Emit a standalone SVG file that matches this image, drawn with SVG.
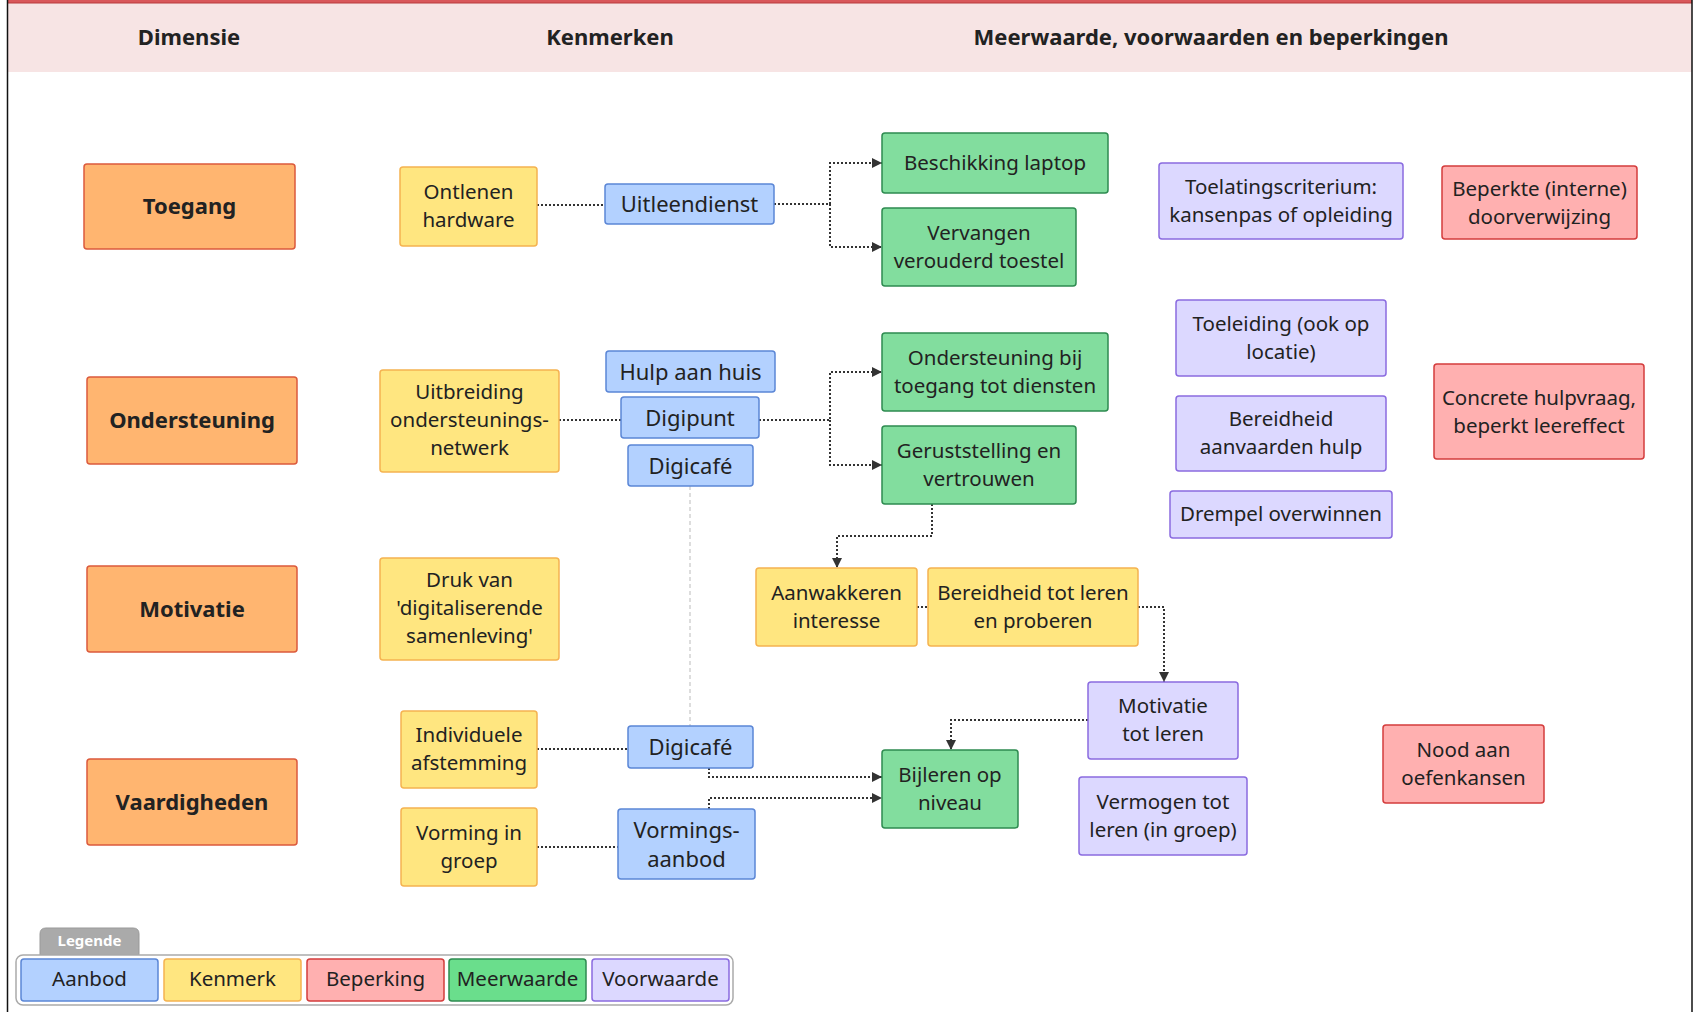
<svg xmlns="http://www.w3.org/2000/svg" width="1693" height="1012" viewBox="0 0 1693 1012">
<defs>
<marker id="arr" viewBox="0 0 10 10" refX="10" refY="5" markerWidth="10" markerHeight="10" markerUnits="userSpaceOnUse" orient="auto">
<path d="M0,0 L10,5 L0,10 z" fill="#333"/>
</marker>
<style>
text{font-family:"Noto Sans","Open Sans","Liberation Sans",sans-serif;font-size:20.5px;fill:#222;text-anchor:middle;dominant-baseline:central;transform:translateY(-1px)}
.h{font-weight:bold;font-size:22px}
.d{font-weight:bold;font-size:22px}
.a{font-size:22px}
.lg{transform:translateY(-2px)}
rect{stroke-width:1.5}
.dim{fill:#ffb570;stroke:#dc5a3c}
.ken{fill:#ffe680;stroke:#f5b350}
.aan{fill:#b3d1ff;stroke:#5b86d6}
.mee{fill:#82dd9e;stroke:#2e8b50}
.voo{fill:#dcd8ff;stroke:#8a6be0}
.bep{fill:#ffb0b0;stroke:#d43c3c}
.c{fill:none;stroke:#333;stroke-width:2;stroke-dasharray:2 2}
.ca{fill:none;stroke:#333;stroke-width:2;stroke-dasharray:2 2;marker-end:url(#arr)}
</style>
</defs>
<rect x="0" y="0" width="1693" height="1012" fill="#fff" stroke="none"/>
<!-- header -->
<g id="header">
<rect x="8" y="3" width="1684" height="69" fill="#f7e4e4" stroke="none"/>
<rect x="8" y="0" width="1684" height="3" fill="#d9575a" stroke="none"/>
<line x1="8" y1="3" x2="1692" y2="3" stroke="#b83a3d" stroke-width="1"/>
<line x1="7.5" y1="0" x2="7.5" y2="1012" stroke="#111" stroke-width="1.5"/>
<line x1="1692" y1="0" x2="1692" y2="1012" stroke="#111" stroke-width="1.5"/>
<text class="h" x="189" y="37">Dimensie</text>
<text class="h" x="610" y="37">Kenmerken</text>
<text class="h" x="1211" y="37">Meerwaarde, voorwaarden en beperkingen</text>
</g>
<!-- connectors -->
<g id="connectors">
<path class="c" d="M537,205 H605"/>
<path class="ca" d="M774,204 H830 V163 H882"/>
<path class="ca" d="M830,204 V247 H882"/>
<path class="c" d="M559,420 H621"/>
<path class="ca" d="M759,420 H830 V372 H882"/>
<path class="ca" d="M830,420 V465 H882"/>
<path class="ca" d="M932,504 V536 H837 V568"/>
<path class="c" d="M917,607 H928"/>
<path class="ca" d="M1138,607 H1164 V682"/>
<path class="ca" d="M1088,720 H951 V750"/>
<path class="c" d="M537,749 H628"/>
<path class="c" d="M537,847 H618"/>
<path class="ca" d="M709,768 V777 H882"/>
<path class="ca" d="M709,809 V798 H882"/>
<path d="M690,486 V726" fill="none" stroke="#bbb" stroke-width="1" stroke-dasharray="4 3"/>
</g>
<!-- dimensions -->
<g id="n-toegang"><rect class="dim" x="84" y="164" width="211" height="85" rx="3"/><text class="d" x="189.5" y="206">Toegang</text></g>
<g id="n-ondersteuning"><rect class="dim" x="87" y="377" width="210" height="87" rx="3"/><text class="d" x="192" y="420">Ondersteuning</text></g>
<g id="n-motivatie"><rect class="dim" x="87" y="566" width="210" height="86" rx="3"/><text class="d" x="192" y="609">Motivatie</text></g>
<g id="n-vaardigheden"><rect class="dim" x="87" y="759" width="210" height="86" rx="3"/><text class="d" x="192" y="802">Vaardigheden</text></g>
<!-- kenmerken -->
<g id="n-ontlenen"><rect class="ken" x="400" y="167" width="137" height="79" rx="3"/><text x="468.5" y="192">Ontlenen</text><text x="468.5" y="220">hardware</text></g>
<g id="n-uitbreiding"><rect class="ken" x="380" y="370" width="179" height="102" rx="3"/><text x="469.5" y="392">Uitbreiding</text><text x="469.5" y="420">ondersteunings-</text><text x="469.5" y="448">netwerk</text></g>
<g id="n-druk"><rect class="ken" x="380" y="558" width="179" height="102" rx="3"/><text x="469.5" y="580">Druk van</text><text x="469.5" y="608">'digitaliserende</text><text x="469.5" y="636">samenleving'</text></g>
<g id="n-individuele"><rect class="ken" x="401" y="711" width="136" height="77" rx="3"/><text x="469" y="735">Individuele</text><text x="469" y="763">afstemming</text></g>
<g id="n-vorming"><rect class="ken" x="401" y="808" width="136" height="78" rx="3"/><text x="469" y="833">Vorming in</text><text x="469" y="861">groep</text></g>
<!-- aanbod -->
<g id="n-uitleendienst"><rect class="aan" x="605" y="184" width="169" height="40" rx="3"/><text class="a" x="689.5" y="204">Uitleendienst</text></g>
<g id="n-hulp"><rect class="aan" x="606" y="351" width="169" height="41" rx="3"/><text class="a" x="690.5" y="371.5">Hulp aan huis</text></g>
<g id="n-digipunt"><rect class="aan" x="621" y="397" width="138" height="41" rx="3"/><text class="a" x="690" y="417.5">Digipunt</text></g>
<g id="n-digicafe1"><rect class="aan" x="628" y="445" width="125" height="41" rx="3"/><text class="a" x="690.5" y="465.5">Digicafé</text></g>
<g id="n-digicafe2"><rect class="aan" x="628" y="726" width="125" height="42" rx="3"/><text class="a" x="690.5" y="747">Digicafé</text></g>
<g id="n-vormingsaanbod"><rect class="aan" x="618" y="809" width="137" height="70" rx="3"/><text class="a" x="686.5" y="829.5">Vormings-</text><text class="a" x="686.5" y="858.5">aanbod</text></g>
<!-- meerwaarde -->
<g id="n-laptop"><rect class="mee" x="882" y="133" width="226" height="60" rx="3"/><text x="995" y="163">Beschikking laptop</text></g>
<g id="n-vervangen"><rect class="mee" x="882" y="208" width="194" height="78" rx="3"/><text x="979" y="233">Vervangen</text><text x="979" y="261">verouderd toestel</text></g>
<g id="n-ondersteuningbij"><rect class="mee" x="882" y="333" width="226" height="78" rx="3"/><text x="995" y="358">Ondersteuning bij</text><text x="995" y="386">toegang tot diensten</text></g>
<g id="n-geruststelling"><rect class="mee" x="882" y="426" width="194" height="78" rx="3"/><text x="979" y="451">Geruststelling en</text><text x="979" y="479">vertrouwen</text></g>
<g id="n-bijleren"><rect class="mee" x="882" y="750" width="136" height="78" rx="3"/><text x="950" y="775">Bijleren op</text><text x="950" y="803">niveau</text></g>
<!-- yellow in meerwaarde column -->
<g id="n-aanwakkeren"><rect class="ken" x="756" y="568" width="161" height="78" rx="3"/><text x="836.5" y="593">Aanwakkeren</text><text x="836.5" y="621">interesse</text></g>
<g id="n-bereidheidleren"><rect class="ken" x="928" y="568" width="210" height="78" rx="3"/><text x="1033" y="593">Bereidheid tot leren</text><text x="1033" y="621">en proberen</text></g>
<!-- voorwaarde -->
<g id="n-toelating"><rect class="voo" x="1159" y="163" width="244" height="76" rx="3"/><text x="1281" y="187">Toelatingscriterium:</text><text x="1281" y="215">kansenpas of opleiding</text></g>
<g id="n-toeleiding"><rect class="voo" x="1176" y="300" width="210" height="76" rx="3"/><text x="1281" y="324">Toeleiding (ook op</text><text x="1281" y="352">locatie)</text></g>
<g id="n-bereidheidhulp"><rect class="voo" x="1176" y="396" width="210" height="75" rx="3"/><text x="1281" y="419">Bereidheid</text><text x="1281" y="447">aanvaarden hulp</text></g>
<g id="n-drempel"><rect class="voo" x="1170" y="491" width="222" height="47" rx="3"/><text x="1281" y="514">Drempel overwinnen</text></g>
<g id="n-motivatieleren"><rect class="voo" x="1088" y="682" width="150" height="77" rx="3"/><text x="1163" y="706">Motivatie</text><text x="1163" y="734">tot leren</text></g>
<g id="n-vermogen"><rect class="voo" x="1079" y="777" width="168" height="78" rx="3"/><text x="1163" y="802">Vermogen tot</text><text x="1163" y="830">leren (in groep)</text></g>
<!-- beperking -->
<g id="n-beperkte"><rect class="bep" x="1442" y="166" width="195" height="73" rx="3"/><text x="1539.5" y="188.5">Beperkte (interne)</text><text x="1539.5" y="216.5">doorverwijzing</text></g>
<g id="n-concrete"><rect class="bep" x="1434" y="364" width="210" height="95" rx="3"/><text x="1539" y="397.5">Concrete hulpvraag,</text><text x="1539" y="425.5">beperkt leereffect</text></g>
<g id="n-nood"><rect class="bep" x="1383" y="725" width="161" height="78" rx="3"/><text x="1463.5" y="750">Nood aan</text><text x="1463.5" y="778">oefenkansen</text></g>
<!-- legend -->
<g id="legend">
<path d="M40,955 V934 Q40,928 46,928 H133 Q139,928 139,934 V955 Z" fill="#aaa" stroke="#999" stroke-width="1"/>
<text class="lg" x="89.5" y="941.5" style="font-size:15px;font-weight:bold;fill:#fff">Legende</text>
<rect x="16" y="955" width="717" height="50" rx="7" fill="#fff" stroke="#aaa" stroke-width="1.5"/>
<rect class="aan" x="21" y="959" width="137" height="42" rx="3"/><text class="lg" x="89.5" y="980">Aanbod</text>
<rect class="ken" x="164" y="959" width="137" height="42" rx="3"/><text class="lg" x="232.5" y="980">Kenmerk</text>
<rect class="bep" x="307" y="959" width="137" height="42" rx="3"/><text class="lg" x="375.5" y="980">Beperking</text>
<rect x="449" y="959" width="137" height="42" rx="3" fill="#6ade8c" stroke="#2e8b50"/><text class="lg" x="517.5" y="980">Meerwaarde</text>
<rect class="voo" x="592" y="959" width="137" height="42" rx="3"/><text class="lg" x="660.5" y="980">Voorwaarde</text>
</g>
</svg>
